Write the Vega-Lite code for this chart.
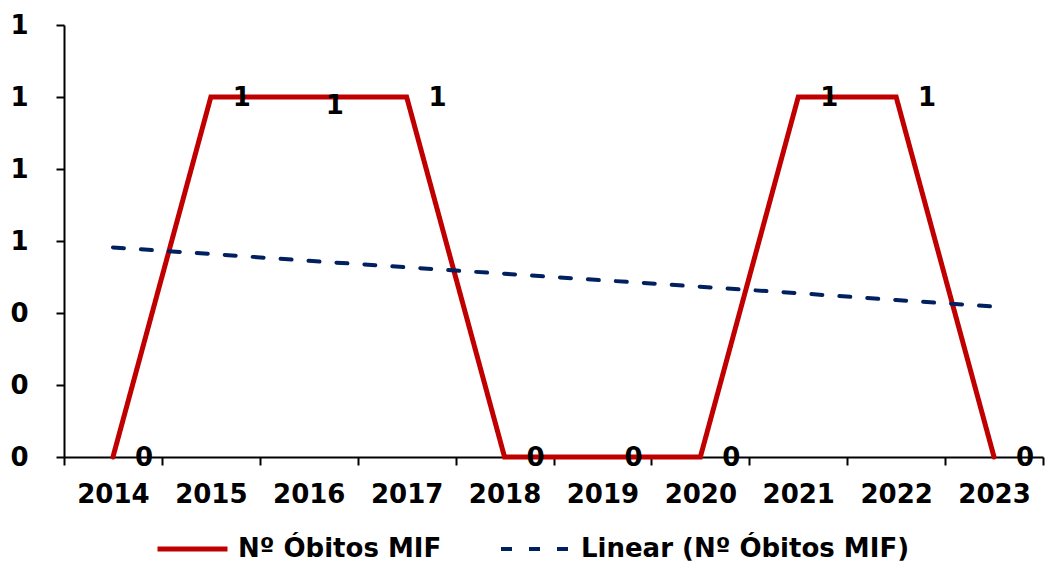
{
  "$schema": "https://vega.github.io/schema/vega-lite/v6.json",
  "width": 979,
  "height": 432,
  "autosize": {"type": "none"},
  "padding": {"left": 64, "top": 25, "right": 3, "bottom": 105},
  "background": "white",
  "config": {"view": {"stroke": null}, "font": "DejaVu Sans"},
  "data": {"values": [
    {"year": "2014", "series": "Nº Óbitos MIF", "value": 0},
    {"year": "2015", "series": "Nº Óbitos MIF", "value": 1},
    {"year": "2016", "series": "Nº Óbitos MIF", "value": 1},
    {"year": "2017", "series": "Nº Óbitos MIF", "value": 1},
    {"year": "2018", "series": "Nº Óbitos MIF", "value": 0},
    {"year": "2019", "series": "Nº Óbitos MIF", "value": 0},
    {"year": "2020", "series": "Nº Óbitos MIF", "value": 0},
    {"year": "2021", "series": "Nº Óbitos MIF", "value": 1},
    {"year": "2022", "series": "Nº Óbitos MIF", "value": 1},
    {"year": "2023", "series": "Nº Óbitos MIF", "value": 0},
    {"year": "2014", "series": "Linear (Nº Óbitos MIF)", "value": 0.582},
    {"year": "2015", "series": "Linear (Nº Óbitos MIF)", "value": 0.564},
    {"year": "2016", "series": "Linear (Nº Óbitos MIF)", "value": 0.545},
    {"year": "2017", "series": "Linear (Nº Óbitos MIF)", "value": 0.527},
    {"year": "2018", "series": "Linear (Nº Óbitos MIF)", "value": 0.509},
    {"year": "2019", "series": "Linear (Nº Óbitos MIF)", "value": 0.491},
    {"year": "2020", "series": "Linear (Nº Óbitos MIF)", "value": 0.473},
    {"year": "2021", "series": "Linear (Nº Óbitos MIF)", "value": 0.455},
    {"year": "2022", "series": "Linear (Nº Óbitos MIF)", "value": 0.436},
    {"year": "2023", "series": "Linear (Nº Óbitos MIF)", "value": 0.418}
  ]},
  "encoding": {
    "x": {
      "field": "year", "type": "ordinal", "bandPosition": 0.5,
      "scale": {"type": "band", "paddingInner": 0, "paddingOuter": 0},
      "axis": {
        "title": null, "tickBand": "extent", "labelAngle": 0,
        "domainColor": "black", "domainWidth": 2, "tickColor": "black", "tickWidth": 2, "tickSize": 8,
        "labelFont": "DejaVu Sans", "labelFontSize": 26, "labelFontWeight": "bold", "labelColor": "black",
        "labelPadding": 16
      }
    },
    "y": {
      "field": "value", "type": "quantitative",
      "scale": {"domain": [0, 1.2], "nice": false},
      "axis": {
        "title": null, "values": [0, 0.2, 0.4, 0.6, 0.8, 1.0, 1.2], "format": ".0f", "grid": false,
        "domainColor": "black", "domainWidth": 2, "tickColor": "black", "tickWidth": 2, "tickSize": 8,
        "labelFont": "DejaVu Sans", "labelFontSize": 26, "labelFontWeight": "bold", "labelColor": "black",
        "labelPadding": 28
      }
    }
  },
  "layer": [
    {
      "mark": {"type": "line", "strokeJoin": "miter", "strokeCap": "round"},
      "encoding": {
        "color": {
          "field": "series", "type": "nominal",
          "scale": {"domain": ["Nº Óbitos MIF", "Linear (Nº Óbitos MIF)"], "range": ["#C00000", "#002060"]},
          "legend": {
            "title": null, "orient": "none", "legendX": 91, "legendY": 509, "direction": "horizontal",
            "symbolType": "stroke", "symbolSize": 4900, "clipHeight": 30, "labelFont": "DejaVu Sans", "labelFontSize": 26,
            "labelFontWeight": "bold", "labelColor": "black", "labelOffset": 8, "columnPadding": 57,
            "labelLimit": 500
          }
        },
        "strokeDash": {
          "field": "series", "type": "nominal",
          "scale": {"domain": ["Nº Óbitos MIF", "Linear (Nº Óbitos MIF)"], "range": [[1, 0], [11, 17]]},
          "legend": null
        },
        "strokeWidth": {
          "field": "series", "type": "nominal",
          "scale": {"type": "ordinal", "domain": ["Nº Óbitos MIF", "Linear (Nº Óbitos MIF)"], "range": [5, 4]},
          "legend": null
        }
      }
    },
    {
      "transform": [{"filter": "datum.series === 'Nº Óbitos MIF' && datum.year !== '2016'"}],
      "mark": {"type": "text", "dx": 31, "dy": 1, "baseline": "middle", "align": "center", "fontSize": 26, "fontWeight": "bold", "font": "DejaVu Sans", "color": "black"},
      "encoding": {"text": {"field": "value", "type": "quantitative", "format": ".0f"}}
    },
    {
      "transform": [{"filter": "datum.series === 'Nº Óbitos MIF' && datum.year === '2016'"}],
      "mark": {"type": "text", "dx": 26, "dy": 9, "baseline": "middle", "align": "center", "fontSize": 26, "fontWeight": "bold", "font": "DejaVu Sans", "color": "black"},
      "encoding": {"text": {"field": "value", "type": "quantitative", "format": ".0f"}}
    }
  ]
}
